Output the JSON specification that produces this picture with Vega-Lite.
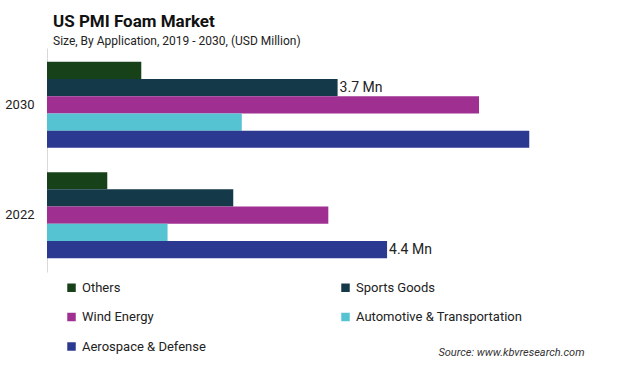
{
  "$schema": "https://vega.github.io/schema/vega-lite/v6.json",
  "width": 541,
  "height": 224,
  "autosize": {"type": "none"},
  "padding": {"left": 47, "top": 48, "right": 32, "bottom": 101},
  "background": "white",
  "title": {
    "text": "US PMI Foam Market",
    "subtitle": "Size, By Application, 2019 - 2030, (USD Million)",
    "anchor": "start",
    "frame": "group",
    "dx": 6,
    "offset": 0,
    "font": "Roboto",
    "fontSize": 17,
    "fontWeight": "bold",
    "color": "#111111",
    "subtitleFont": "Roboto",
    "subtitleFontSize": 12,
    "subtitleColor": "#222222",
    "subtitlePadding": 5
  },
  "data": {
    "values": [
      {"year": "2030", "application": "Others", "value": 1.22, "label": ""},
      {"year": "2030", "application": "Sports Goods", "value": 3.76, "label": "3.7 Mn"},
      {"year": "2030", "application": "Wind Energy", "value": 5.59, "label": ""},
      {"year": "2030", "application": "Automotive & Transportation", "value": 2.52, "label": ""},
      {"year": "2030", "application": "Aerospace & Defense", "value": 6.24, "label": ""},
      {"year": "2022", "application": "Others", "value": 0.78, "label": ""},
      {"year": "2022", "application": "Sports Goods", "value": 2.41, "label": ""},
      {"year": "2022", "application": "Wind Energy", "value": 3.64, "label": ""},
      {"year": "2022", "application": "Automotive & Transportation", "value": 1.56, "label": ""},
      {"year": "2022", "application": "Aerospace & Defense", "value": 4.4, "label": "4.4 Mn"}
    ]
  },
  "encoding": {
    "y": {
      "field": "year",
      "type": "nominal",
      "sort": ["2030", "2022"],
      "scale": {"paddingInner": 0.22, "paddingOuter": 0.125},
      "axis": {
        "title": null,
        "ticks": false,
        "labelFont": "Roboto",
        "labelFontSize": 13,
        "labelColor": "#222222",
        "labelPadding": 13,
        "domainColor": "#d9d9d9",
        "domainWidth": 1
      }
    },
    "yOffset": {
      "field": "application",
      "type": "nominal",
      "sort": ["Others", "Sports Goods", "Wind Energy", "Automotive & Transportation", "Aerospace & Defense"],
      "scale": {"paddingInner": 0, "paddingOuter": 0}
    },
    "x": {
      "field": "value",
      "type": "quantitative",
      "scale": {"domain": [0, 7], "nice": false},
      "axis": {
        "title": "Source: www.kbvresearch.com",
        "titleAnchor": "end",
        "titleAlign": "right",
        "titleX": 537,
        "titleFont": "Roboto",
        "titleFontSize": 11,
        "titleFontStyle": "italic",
        "titleFontWeight": "normal",
        "titleColor": "#333333",
        "titlePadding": 74,
        "labels": false,
        "ticks": false,
        "domain": false,
        "grid": false
      }
    }
  },
  "layer": [
    {
      "mark": {"type": "bar"},
      "encoding": {
        "color": {
          "field": "application",
          "type": "nominal",
          "sort": ["Others", "Sports Goods", "Wind Energy", "Automotive & Transportation", "Aerospace & Defense"],
          "scale": {
            "domain": ["Others", "Sports Goods", "Wind Energy", "Automotive & Transportation", "Aerospace & Defense"],
            "range": ["#174219", "#143a4a", "#a02f92", "#55c3d1", "#2b3990"]
          },
          "legend": {
            "orient": "none",
            "legendX": 18,
            "legendY": 233,
            "direction": "horizontal",
            "columns": 2,
            "title": null,
            "symbolType": "square",
            "symbolSize": 72,
            "symbolStrokeWidth": 0,
            "labelFont": "Roboto",
            "labelFontSize": 13,
            "labelColor": "#222222",
            "labelOffset": 4,
            "columnPadding": 133,
            "rowPadding": 15.5,
            "labelLimit": 300
          }
        }
      }
    },
    {
      "mark": {"type": "text", "align": "left", "baseline": "middle", "dx": 2, "font": "Roboto", "fontSize": 14, "color": "#222222"},
      "encoding": {"text": {"field": "label"}}
    }
  ],
  "config": {"view": {"stroke": null}}
}
